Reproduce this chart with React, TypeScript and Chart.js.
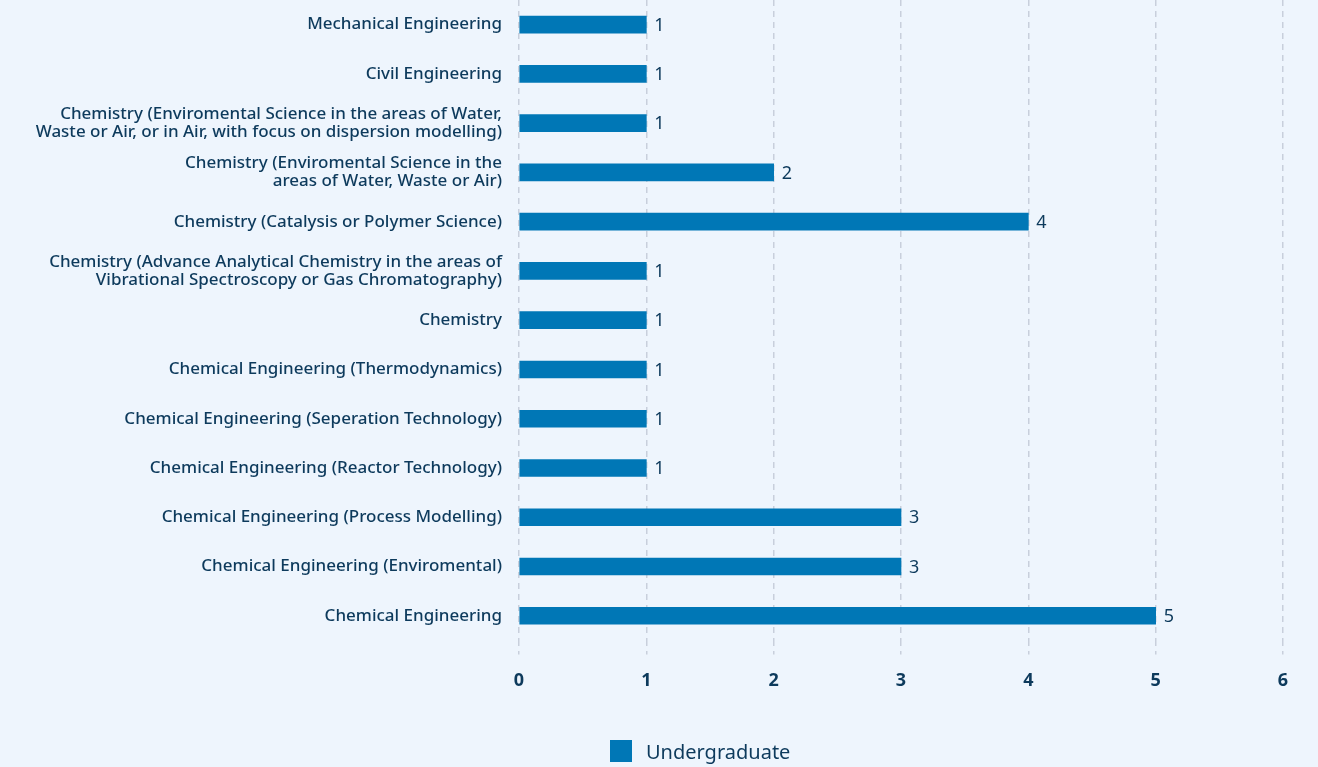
import React, { useEffect, useRef } from "react";
import { Chart, registerables } from "chart.js";

Chart.register(...registerables);

const categories: (string | string[])[] = [
  "Mechanical Engineering",
  "Civil Engineering",
  ["Chemistry (Enviromental Science in the areas of Water,", "Waste or Air, or in Air, with focus on dispersion modelling)"],
  ["Chemistry (Enviromental Science in the", "areas of Water, Waste or Air)"],
  "Chemistry (Catalysis or Polymer Science)",
  ["Chemistry (Advance Analytical Chemistry in the areas of", "Vibrational Spectroscopy or Gas Chromatography)"],
  "Chemistry",
  "Chemical Engineering (Thermodynamics)",
  "Chemical Engineering (Seperation Technology)",
  "Chemical Engineering (Reactor Technology)",
  "Chemical Engineering (Process Modelling)",
  "Chemical Engineering (Enviromental)",
  "Chemical Engineering",
];

const undergraduate: number[] = [1, 1, 1, 2, 4, 1, 1, 1, 1, 1, 3, 3, 5];
const seriesName = "Undergraduate";
const xMin = 0;
const xMax = 6;

const NAVY = "#0d3a5c";
const BAR = "#0077b6";
const BG = "#eef5fd";
const FONT = "'Noto Sans', sans-serif";

const valueLabels = {
  id: "valueLabels",
  afterDatasetsDraw(chart: any) {
    const ctx = chart.ctx;
    const meta = chart.getDatasetMeta(0);
    ctx.save();
    ctx.font = `400 18px ${FONT}`;
    ctx.fillStyle = NAVY;
    ctx.textAlign = "left";
    ctx.textBaseline = "middle";
    meta.data.forEach((bar: any, i: number) => {
      const v = chart.data.datasets[0].data[i];
      ctx.fillText(String(v), bar.x + 8, bar.y + 1);
    });
    ctx.restore();
  },
};

export default function App() {
  const ref = useRef<HTMLCanvasElement | null>(null);
  useEffect(() => {
    if (!ref.current) return;
    const chart = new Chart(ref.current, {
      type: "bar",
      data: {
        labels: categories,
        datasets: [
          {
            label: seriesName,
            data: undergraduate,
            backgroundColor: BAR,
            borderWidth: 0,
            barThickness: 17,
          },
        ],
      },
      options: {
        indexAxis: "y",
        animation: false,
        responsive: true,
        maintainAspectRatio: false,
        layout: { padding: { left: 0, right: 35, top: 0, bottom: 60 } },
        plugins: {
          legend: { display: false },
          tooltip: { enabled: false },
        },
        scales: {
          x: {
            min: xMin,
            max: xMax,
            ticks: {
              stepSize: 1,
              color: NAVY,
              padding: 15.5,
              font: { family: FONT, size: 18, weight: "bold" },
            },
            grid: {
              color: "#c8cfdc",
              lineWidth: 1.5,
              tickLength: 14,
              tickColor: "#c8cfdc",
              tickBorderDash: [6, 5],
            },
            border: { display: false, dash: [6, 5] },
          },
          y: {
            afterFit: (scale: any) => {
              scale.width = 519;
              scale.paddingTop = 0;
              scale.paddingBottom = 0;
            },
            ticks: {
              color: NAVY,
              padding: 17,
              autoSkip: false,
              font: { family: FONT, size: 17, weight: 500, lineHeight: "18px" },
            },
            grid: { display: false, drawTicks: false },
            border: { display: false },
          },
        },
      },
      plugins: [valueLabels],
    });
    return () => chart.destroy();
  }, []);

  return (
    <div
      style={{
        position: "fixed",
        left: 0,
        top: 0,
        width: 1318,
        height: 767,
        background: BG,
        fontFamily: FONT,
      }}
    >
      <canvas ref={ref} />
      <div
        style={{
          position: "absolute",
          left: 610,
          top: 740,
          display: "flex",
          alignItems: "center",
          height: 22,
        }}
      >
        <span style={{ width: 22, height: 22, background: BAR, display: "inline-block" }} />
        <span style={{ marginLeft: 14, fontSize: 20, color: NAVY }}>{seriesName}</span>
      </div>
    </div>
  );
}
